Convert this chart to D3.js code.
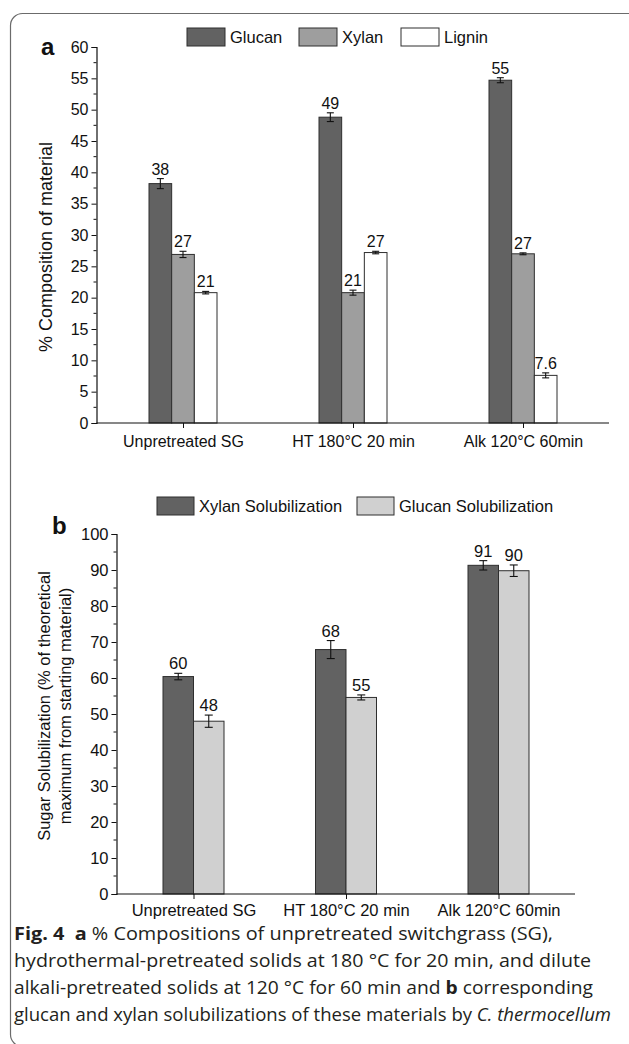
<!DOCTYPE html>
<html>
<head>
<meta charset="utf-8">
<script src="https://cdn.jsdelivr.net/npm/d3@7/dist/d3.min.js"></script>
<style>
  html, body { margin: 0; padding: 0; background: #fff; }
  svg { display: block; }
  .chart text { font-family: "Liberation Sans", Arial, sans-serif; fill: #111; }
  .caption text { font-family: "Open Sans", "Noto Sans", sans-serif; fill: #231f20; }
</style>
</head>
<body>
<svg id="fig" width="629" height="1044"></svg>
<script>
// ---- data, panel a: composition (%)
const categories = ["Unpretreated SG", "HT 180°C 20 min", "Alk 120°C 60min"]
const compSeries = ["Glucan", "Xylan", "Lignin"]
const glucanComp = [38.2, 48.8, 54.7]
const glucanCompErr = [0.8, 0.7, 0.4]
const xylanComp = [26.9, 20.8, 27.0]
const xylanCompErr = [0.5, 0.4, 0.15]
const ligninComp = [20.8, 27.2, 7.6]
const ligninCompErr = [0.2, 0.2, 0.4]
const compTicks = [0, 5, 10, 15, 20, 25, 30, 35, 40, 45, 50, 55, 60]

// ---- data, panel b: solubilization (% of theoretical max)
const solSeries = ["Xylan Solubilization", "Glucan Solubilization"]
const xylanSol = [60.4, 67.9, 91.3]
const xylanSolErr = [0.9, 2.5, 1.3]
const glucanSol = [48.0, 54.6, 89.8]
const glucanSolErr = [1.7, 0.7, 1.6]
const solTicks = [0, 10, 20, 30, 40, 50, 60, 70, 80, 90, 100]

const svg = d3.select("#fig")

// frame round the figure (runs off the right and bottom edges)
svg.append("rect")
  .attr("x", 10.5).attr("y", 13.5)
  .attr("width", 660).attr("height", 1033)
  .attr("rx", 12)
  .attr("fill", "none")
  .attr("stroke", "#6b6b6b")
  .attr("stroke-width", 1.2)

const fmt = v => v < 10 ? d3.format(".1f")(v) : d3.format(".0f")(v)

function drawPanel(p) {
  const g = svg.append("g").attr("class", "chart")

  const x = d3.scalePoint().domain(categories).range(p.catRange)
  const inner = d3.scaleBand().domain(p.series).range([-p.groupW / 2, p.groupW / 2]).padding(0)
  const y = d3.scaleLinear().domain(p.yDomain).range(p.yRange)

  const rows = []
  p.series.forEach((s, si) => {
    categories.forEach((c, ci) => {
      rows.push({ s, c, v: p.values[si][ci], e: p.errors[si][ci], fill: p.colors[si] })
    })
  })

  // bars
  g.selectAll("rect.bar").data(rows).join("rect")
    .attr("class", "bar")
    .attr("x", d => x(d.c) + inner(d.s))
    .attr("width", inner.bandwidth())
    .attr("y", d => y(d.v))
    .attr("height", d => y(0) - y(d.v))
    .attr("fill", d => d.fill)
    .attr("stroke", "#2e2e2e")
    .attr("stroke-width", 1)

  // error bars
  const cx = d => x(d.c) + inner(d.s) + inner.bandwidth() / 2
  const err = g.selectAll("g.err").data(rows).join("g").attr("class", "err")
    .attr("stroke", "#111").attr("stroke-width", 1.1)
  err.append("line")
    .attr("x1", cx).attr("x2", cx)
    .attr("y1", d => y(d.v - d.e)).attr("y2", d => y(d.v + d.e))
  err.append("line")
    .attr("x1", d => cx(d) - p.cap).attr("x2", d => cx(d) + p.cap)
    .attr("y1", d => y(d.v + d.e)).attr("y2", d => y(d.v + d.e))
  err.append("line")
    .attr("x1", d => cx(d) - p.cap).attr("x2", d => cx(d) + p.cap)
    .attr("y1", d => y(d.v - d.e)).attr("y2", d => y(d.v - d.e))

  // value labels
  g.selectAll("text.val").data(rows).join("text")
    .attr("class", "val")
    .attr("x", cx)
    .attr("y", d => y(d.v + d.e) - 4)
    .attr("text-anchor", "middle")
    .style("font-size", p.fs + "px")
    .text(d => fmt(d.v))

  // y axis with minor ticks
  const yAxis = d3.axisLeft(y).tickValues(p.ticks).tickSize(5).tickPadding(3).tickFormat(d3.format("d"))
  const ya = g.append("g").attr("transform", `translate(${p.axisX},0)`).call(yAxis)
  ya.select(".domain").attr("stroke", "#111").attr("stroke-width", 1.2)
  ya.selectAll(".tick line").attr("stroke", "#111")
  ya.selectAll(".tick text").style("font-size", p.fs + "px").attr("fill", "#111")
  const minor = d3.pairs(p.ticks).map(([a, b]) => (a + b) / 2)
  ya.selectAll("line.minor").data(minor).join("line")
    .attr("class", "minor")
    .attr("x1", -3).attr("x2", 0)
    .attr("y1", d => y(d)).attr("y2", d => y(d))
    .attr("stroke", "#111")

  // x axis
  const xAxis = d3.axisBottom(x).tickSize(5).tickPadding(5).tickSizeOuter(0)
  const xa = g.append("g").attr("transform", `translate(0,${y(0)})`).call(xAxis)
  xa.select(".domain").attr("d", `M${p.axisX},0H${p.axisEnd}`).attr("stroke", "#111").attr("stroke-width", 1.2)
  xa.selectAll(".tick line").attr("stroke", "#111")
  xa.selectAll(".tick text").style("font-size", p.fs + "px").attr("fill", "#111").attr("dy", p.catDy)

  // y title
  const yt = g.append("text")
    .attr("transform", `translate(${p.titleX},${p.titleY}) rotate(-90)`)
    .attr("text-anchor", "middle")
    .style("font-size", p.titleFs + "px")
  p.title.forEach((t, i) => {
    yt.append("tspan").attr("x", 0).attr("dy", i === 0 ? 0 : "1.3em").text(t)
  })

  // panel letter
  g.append("text")
    .attr("x", p.letterX).attr("y", p.letterY)
    .style("font-size", "24px").style("font-weight", "bold")
    .text(p.letter)

  // legend
  const lg = g.selectAll("g.leg").data(p.series).join("g")
    .attr("class", "leg")
    .attr("transform", (d, i) => `translate(${p.legendX[i]},${p.legendY})`)
  lg.append("rect")
    .attr("width", p.legendBox[0]).attr("height", p.legendBox[1])
    .attr("fill", (d, i) => p.colors[i])
    .attr("stroke", "#2e2e2e")
  lg.append("text")
    .attr("x", p.legendBox[0] + 5)
    .attr("y", p.legendBox[1] / 2)
    .attr("dy", "0.36em")
    .style("font-size", p.legendFs + "px")
    .text(d => d)
}

drawPanel({
  letter: "a", letterX: 41, letterY: 55,
  series: compSeries,
  values: [glucanComp, xylanComp, ligninComp],
  errors: [glucanCompErr, xylanCompErr, ligninCompErr],
  colors: ["#626262", "#9e9e9e", "#ffffff"],
  ticks: compTicks,
  yDomain: [0, 60], yRange: [423, 47],
  catRange: [183, 523], groupW: 68, cap: 3.5,
  axisX: 96.5, axisEnd: 609,
  fs: 16, catDy: "0.9em",
  title: ["% Composition of material"], titleX: 52, titleY: 247, titleFs: 18,
  legendX: [187, 299, 401], legendY: 28, legendBox: [38, 18], legendFs: 16.5
})

drawPanel({
  letter: "b", letterX: 52, letterY: 534,
  series: solSeries,
  values: [xylanSol, glucanSol],
  errors: [xylanSolErr, glucanSolErr],
  colors: ["#626262", "#d0d0d0"],
  ticks: solTicks,
  yDomain: [0, 100], yRange: [894, 534],
  catRange: [193.5, 498.5], groupW: 61, cap: 4,
  axisX: 116.5, axisEnd: 575,
  fs: 16.5, catDy: "0.75em",
  title: ["Sugar Solubilization (% of theoretical", "maximum from starting material)"],
  titleX: 50, titleY: 706, titleFs: 16.5,
  legendX: [157, 357], legendY: 497, legendBox: [37, 18], legendFs: 16.5
})

// caption
const cap = svg.append("g").attr("class", "caption").style("font-size", "18px")
const capLines = [
  { y: 940, len: 539, parts: [["Fig. 4", "b"], ["  ", ""], ["a", "b"], [" % Compositions of unpretreated switchgrass (SG),", ""]] },
  { y: 967, len: 577, parts: [["hydrothermal-pretreated solids at 180 °C for 20 min, and dilute", ""]] },
  { y: 994, len: 579, parts: [["alkali-pretreated solids at 120 °C for 60 min and ", ""], ["b", "b"], [" corresponding", ""]] },
  { y: 1021, len: 597, parts: [["glucan and xylan solubilizations of these materials by ", ""], ["C. thermocellum", "i"]] }
]
capLines.forEach(l => {
  const t = cap.append("text")
    .attr("x", 14).attr("y", l.y)
    .attr("textLength", l.len).attr("lengthAdjust", "spacingAndGlyphs")
    .attr("xml:space", "preserve")
  l.parts.forEach(([s, st]) => {
    const ts = t.append("tspan").text(s)
    if (st === "b") ts.style("font-weight", "bold")
    if (st === "i") ts.style("font-style", "italic")
  })
})
</script>
</body>
</html>
